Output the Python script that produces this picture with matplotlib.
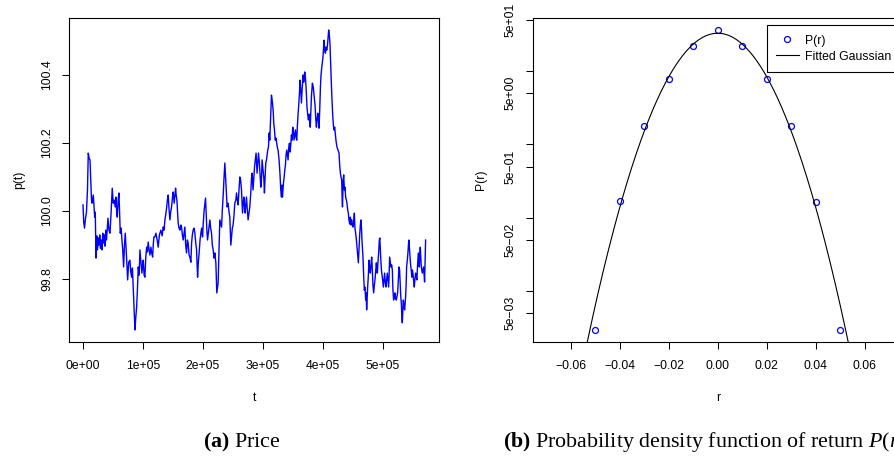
import numpy as np
import matplotlib
matplotlib.use("Agg")
import matplotlib.pyplot as plt
from matplotlib.ticker import FixedLocator, FixedFormatter, FuncFormatter, NullLocator
from matplotlib.lines import Line2D

plt.rcParams['font.family'] = ['Liberation Sans', 'DejaVu Sans']
plt.rcParams['mathtext.fontset'] = 'custom'
plt.rcParams['mathtext.rm'] = 'Liberation Serif'
plt.rcParams['mathtext.it'] = 'Liberation Serif:italic'
plt.rcParams['mathtext.bf'] = 'Liberation Serif:bold'

##############
# DATA
##############

# simulated price path, t in thousands of steps
t_k = [
    0.0, 1.2, 2.5, 4.2, 5.8, 7.5, 8.8, 10.3, 11.7, 12.8,
    14.2, 15.0, 17.2, 18.3, 19.5, 20.5, 21.7, 23.0, 24.2, 25.5,
    26.7, 28.0, 29.2, 30.5, 31.7, 33.0, 34.2, 35.5, 36.7, 38.0,
    39.2, 40.5, 41.7, 43.3, 45.0, 46.7, 48.8, 50.5, 52.2, 53.7,
    55.0, 56.3, 57.2, 58.7, 60.0, 61.2, 62.2, 63.7, 65.0, 66.3,
    67.8, 69.2, 70.5, 72.5, 74.5, 76.3, 78.3, 79.7, 81.2, 82.5,
    83.8, 85.3, 86.7, 88.0, 89.5, 90.8, 92.2, 93.7, 95.0, 96.7,
    98.3, 99.5, 100.5, 102.0, 103.3, 104.7, 106.2, 107.5, 108.8, 110.3,
    111.7, 113.3, 114.7, 116.2, 117.2, 118.3, 120.0, 121.7, 123.8, 125.5,
    127.5, 130.0, 132.0, 133.8, 135.3, 136.7, 138.0, 139.5, 140.8, 142.2,
    143.7, 145.0, 146.3, 147.8, 149.2, 150.5, 152.2, 154.5, 155.5, 156.7,
    157.8, 158.8, 160.3, 161.7, 163.3, 164.5, 165.8, 167.2, 168.7, 170.0,
    171.3, 172.8, 174.2, 175.5, 177.0, 178.3, 180.0, 181.2, 182.5, 183.8,
    185.3, 186.7, 188.0, 189.5, 191.2, 192.5, 193.8, 195.3, 196.7, 198.0,
    199.5, 200.8, 202.2, 204.5, 205.5, 206.7, 207.8, 208.8, 210.3, 211.7,
    213.0, 214.5, 215.8, 217.2, 218.7, 220.0, 221.7, 223.3, 225.5, 227.0,
    228.3, 230.0, 231.2, 232.5, 233.8, 235.3, 236.7, 237.8, 238.8, 240.5,
    242.2, 243.7, 245.0, 246.7, 247.8, 249.2, 250.5, 252.0, 253.3, 255.0,
    256.2, 257.5, 258.8, 260.3, 261.7, 263.0, 264.5, 266.2, 267.2, 268.3,
    269.5, 270.5, 271.7, 272.8, 274.2, 275.5, 277.0, 278.3, 280.0, 281.2,
    282.2, 283.8, 285.0, 286.2, 287.5, 288.8, 290.5, 291.7, 292.8, 294.2,
    295.0, 296.7, 297.8, 298.8, 300.5, 301.7, 302.8, 303.8, 305.0, 306.2,
    307.2, 308.3, 309.5, 310.5, 311.7, 313.3, 314.5, 316.2, 317.5, 318.3,
    319.5, 320.8, 322.0, 323.3, 324.5, 325.5, 327.2, 328.8, 330.0, 331.2,
    332.0, 332.8, 334.5, 335.5, 336.7, 337.8, 338.8, 340.0, 341.2, 342.2,
    343.3, 344.5, 345.5, 346.7, 347.8, 348.8, 350.0, 351.2, 352.2, 353.3,
    354.5, 355.5, 356.7, 357.8, 358.8, 360.0, 361.2, 362.2, 363.3, 364.5,
    365.8, 367.2, 368.3, 370.0, 371.2, 372.2, 373.8, 375.0, 376.2, 377.2,
    378.3, 379.2, 380.3, 381.3, 382.8, 384.2, 385.5, 387.2, 388.3, 389.5,
    390.5, 391.7, 392.8, 393.8, 395.0, 396.2, 397.2, 398.3, 399.5, 400.5,
    402.2, 403.3, 404.5, 405.5, 406.7, 407.8, 408.8, 410.0, 411.2, 412.2,
    413.3, 414.5, 415.5, 416.7, 417.8, 418.8, 420.0, 421.2, 422.5, 423.8,
    425.5, 427.2, 428.3, 429.5, 430.5, 431.7, 432.5, 433.0, 434.2, 435.0,
    436.2, 437.2, 438.3, 439.5, 440.5, 441.7, 442.8, 443.8, 445.0, 446.2,
    447.2, 448.3, 449.5, 450.5, 451.7, 452.8, 453.8, 455.0, 456.2, 457.2,
    458.3, 459.5, 460.5, 461.7, 462.8, 463.8, 464.7, 465.5, 466.3, 467.2,
    468.3, 469.5, 470.5, 471.7, 472.5, 473.3, 474.2, 475.0, 476.2, 477.2,
    478.3, 479.5, 480.5, 481.7, 482.8, 483.8, 485.0, 486.2, 487.2, 488.3,
    489.5, 490.5, 491.2, 492.2, 493.3, 494.5, 495.3, 496.2, 497.2, 498.3,
    499.5, 500.5, 501.2, 502.2, 503.3, 504.5, 505.5, 506.7, 507.8, 508.8,
    510.0, 510.8, 511.7, 512.8, 513.8, 515.0, 516.2, 517.2, 518.3, 519.5,
    520.5, 521.7, 522.8, 523.8, 525.0, 526.2, 527.2, 528.3, 529.5, 530.3,
    531.2, 532.0, 532.8, 533.7, 534.5, 535.5, 536.7, 537.5, 538.3, 539.2,
    540.0, 541.2, 542.2, 543.0, 543.8, 544.7, 545.5, 546.3, 547.2, 548.0,
    548.8, 549.7, 550.5, 551.7, 552.8, 553.8, 555.0, 556.2, 557.2, 558.3,
    559.5, 560.3, 561.2, 562.0, 562.8, 563.7, 564.5, 565.3, 566.2, 567.2,
    568.3, 569.2, 570.0, 570.8, 571.7,
]
price = [
    100.018, 99.968, 99.950, 99.979, 99.997, 100.062, 100.170, 100.155, 100.150, 100.100,
    100.032, 100.023, 100.047, 100.015, 99.982, 99.997, 99.862, 99.927, 99.886, 99.921,
    99.900, 99.930, 99.891, 99.915, 99.886, 99.935, 99.906, 99.930, 99.897, 99.944,
    99.915, 99.950, 99.979, 99.944, 99.935, 99.988, 100.067, 100.023, 100.032, 100.012,
    100.041, 99.997, 99.982, 100.032, 100.053, 99.988, 99.935, 99.950, 99.915, 99.886,
    99.836, 99.900, 99.935, 99.871, 99.798, 99.850, 99.856, 99.821, 99.806, 99.833,
    99.777, 99.710, 99.651, 99.686, 99.718, 99.768, 99.836, 99.812, 99.886, 99.850,
    99.818, 99.842, 99.856, 99.812, 99.806, 99.862, 99.894, 99.880, 99.909, 99.886,
    99.871, 99.894, 99.877, 99.865, 99.900, 99.924, 99.924, 99.935, 99.915, 99.894,
    99.930, 99.944, 99.927, 99.953, 99.944, 99.974, 99.988, 100.009, 100.032, 100.047,
    100.003, 99.974, 99.997, 100.012, 100.038, 100.056, 100.023, 100.067, 100.047, 100.032,
    99.997, 99.965, 99.950, 99.944, 99.959, 99.953, 99.930, 99.915, 99.935, 99.953,
    99.900, 99.877, 99.915, 99.906, 99.871, 99.865, 99.850, 99.906, 99.930, 99.944,
    99.950, 99.935, 99.909, 99.886, 99.806, 99.850, 99.877, 99.915, 99.935, 99.950,
    99.924, 99.968, 100.003, 100.038, 99.997, 99.944, 99.915, 99.930, 99.950, 99.974,
    99.950, 99.935, 99.900, 99.886, 99.862, 99.877, 99.848, 99.760, 99.789, 99.886,
    99.974, 99.962, 99.953, 100.003, 100.041, 100.097, 100.141, 100.106, 100.070, 100.012,
    100.023, 99.997, 99.982, 99.900, 99.921, 99.950, 99.959, 99.988, 100.023, 100.032,
    100.053, 100.032, 100.018, 100.062, 100.100, 100.091, 100.062, 99.994, 100.018, 100.041,
    100.018, 99.994, 100.018, 100.041, 100.003, 99.974, 99.994, 100.012, 100.053, 100.097,
    100.111, 100.062, 100.097, 100.129, 100.150, 100.170, 100.111, 100.141, 100.170, 100.144,
    100.120, 100.070, 100.091, 100.150, 100.120, 100.097, 100.053, 100.097, 100.141, 100.150,
    100.164, 100.179, 100.188, 100.229, 100.208, 100.287, 100.340, 100.317, 100.290, 100.258,
    100.238, 100.208, 100.214, 100.199, 100.185, 100.179, 100.150, 100.106, 100.062, 100.041,
    100.076, 100.041, 100.082, 100.097, 100.120, 100.135, 100.164, 100.179, 100.164, 100.150,
    100.185, 100.199, 100.173, 100.194, 100.223, 100.208, 100.246, 100.232, 100.208, 100.223,
    100.238, 100.217, 100.208, 100.252, 100.282, 100.311, 100.346, 100.384, 100.355, 100.317,
    100.361, 100.399, 100.378, 100.408, 100.390, 100.364, 100.305, 100.282, 100.267, 100.284,
    100.267, 100.246, 100.296, 100.340, 100.375, 100.364, 100.340, 100.311, 100.273, 100.246,
    100.267, 100.287, 100.267, 100.243, 100.296, 100.364, 100.399, 100.419, 100.437, 100.452,
    100.501, 100.472, 100.463, 100.481, 100.472, 100.484, 100.507, 100.531, 100.513, 100.487,
    100.428, 100.370, 100.326, 100.282, 100.252, 100.238, 100.246, 100.223, 100.202, 100.188,
    100.179, 100.170, 100.135, 100.111, 100.100, 100.091, 100.032, 100.012, 100.091, 100.106,
    100.062, 100.070, 100.041, 100.032, 100.023, 100.003, 99.994, 99.974, 99.962, 99.982,
    99.959, 99.974, 99.959, 99.953, 99.968, 99.994, 99.950, 99.935, 99.915, 99.894,
    99.871, 99.848, 99.886, 99.930, 99.959, 99.974, 99.950, 99.915, 99.891, 99.865,
    99.812, 99.768, 99.777, 99.739, 99.760, 99.710, 99.745, 99.777, 99.812, 99.856,
    99.833, 99.818, 99.842, 99.865, 99.827, 99.783, 99.760, 99.783, 99.798, 99.821,
    99.848, 99.827, 99.818, 99.850, 99.877, 99.915, 99.921, 99.886, 99.848, 99.821,
    99.806, 99.789, 99.777, 99.798, 99.818, 99.789, 99.777, 99.798, 99.818, 99.798,
    99.777, 99.812, 99.865, 99.850, 99.836, 99.842, 99.827, 99.768, 99.739, 99.748,
    99.760, 99.745, 99.739, 99.748, 99.760, 99.798, 99.836, 99.827, 99.777, 99.748,
    99.730, 99.695, 99.672, 99.710, 99.739, 99.724, 99.710, 99.730, 99.748, 99.783,
    99.836, 99.856, 99.877, 99.900, 99.915, 99.891, 99.865, 99.850, 99.836, 99.821,
    99.806, 99.827, 99.818, 99.798, 99.777, 99.798, 99.818, 99.806, 99.798, 99.842,
    99.877, 99.856, 99.836, 99.871, 99.894, 99.862, 99.836, 99.827, 99.818, 99.827,
    99.836, 99.812, 99.792, 99.856, 99.915,
]
assert len(t_k) == len(price)

# empirical density of returns
r_bins = [-0.05, -0.04, -0.03, -0.02, -0.01, 0.00, 0.01, 0.02, 0.03, 0.04, 0.05]
pdf_r = [0.00293, 0.168, 1.79, 7.76, 21.9, 36.5, 21.9, 7.76, 1.79, 0.163, 0.00293]

# fitted normal
fit_mu = 0.0
fit_sigma = 0.0121

r_ticks = [-0.06, -0.04, -0.02, 0.00, 0.02, 0.04, 0.06]
p_ticks = [99.8, 100.0, 100.2, 100.4]
pdf_ticks = [5e1, 1e1, 5e0, 1e0, 5e-1, 1e-1, 5e-2, 1e-2, 5e-3]


def r_pad(lo, hi):
    # R style 4% range extension
    d = 0.04 * (hi - lo)
    return lo - d, hi + d


def sci_label(v):
    s = '{:.0e}'.format(v)
    if s[0] != '5':
        return ''  # R drops these labels for lack of room
    return s.replace('-', '\u2212')


def style_axes(ax):
    for s in ax.spines.values():
        s.set_linewidth(0.8)
    ax.tick_params(direction='out', length=5, width=0.75, labelsize=8.7,
                   top=False, right=False)
    ax.tick_params(axis='x', pad=8)
    ax.tick_params(axis='y', pad=6.5)
    for lab in ax.get_yticklabels():
        lab.set_rotation(90)
        lab.set_va('center')


fig = plt.figure(figsize=(8.94, 4.57), dpi=100)
ax1 = fig.add_axes([0.0775, 0.2516, 0.4139, 0.709])
ax2 = fig.add_axes([0.5959, 0.2516, 0.4139, 0.709])

# (a) price
t = np.array(t_k) * 1000
ax1.plot(t, price, color='#0000ff', lw=1.0)
ax1.set_xlim(*r_pad(0, t.max()))
ax1.set_ylim(*r_pad(min(price), max(price)))
ax1.xaxis.set_major_locator(FixedLocator([0, 1e5, 2e5, 3e5, 4e5, 5e5]))
ax1.xaxis.set_major_formatter(FuncFormatter(lambda v, _: '{:.0e}'.format(v)))
ax1.yaxis.set_major_locator(FixedLocator(p_ticks))
ax1.yaxis.set_major_formatter(FuncFormatter(lambda v, _: '{:.1f}'.format(v)))
ax1.set_xlabel('t', fontsize=8.7, va='baseline')
ax1.set_ylabel('p(t)', fontsize=8.7, va='center')
ax1.xaxis.set_label_coords(0.5, -0.182)
ax1.yaxis.set_label_coords(-0.1354, 0.5)
style_axes(ax1)

# (b) pdf of returns, log scale
ax2.set_yscale('log')
rr = np.linspace(-0.08, 0.08, 600)
gauss = np.exp(-(rr - fit_mu) ** 2 / (2 * fit_sigma ** 2)) / (np.sqrt(2 * np.pi) * fit_sigma)
ax2.plot(r_bins, pdf_r, 'o', mfc='none', mec='#0000ff', ms=4.3, mew=0.9)
ax2.plot(rr, gauss, color='black', lw=0.8)
ax2.set_xlim(*r_pad(-0.07, 0.07))
lo, hi = r_pad(np.log10(min(pdf_r)), np.log10(max(pdf_r)))
ax2.set_ylim(10 ** lo, 10 ** hi)
ax2.xaxis.set_major_locator(FixedLocator(r_ticks))
ax2.xaxis.set_major_formatter(FixedFormatter(
    ['{:.2f}'.format(v).replace('-', '\u2212') for v in r_ticks]))
ax2.yaxis.set_major_locator(FixedLocator(pdf_ticks))
ax2.yaxis.set_major_formatter(FixedFormatter([sci_label(v) for v in pdf_ticks]))
ax2.yaxis.set_minor_locator(NullLocator())
ax2.set_xlabel('r', fontsize=8.7, va='baseline')
ax2.set_ylabel('P(r)', fontsize=8.7, va='center')
ax2.xaxis.set_label_coords(0.5, -0.182)
ax2.yaxis.set_label_coords(-0.139, 0.5)
style_axes(ax2)

handles = [Line2D([], [], ls='none', marker='o', mfc='none', mec='#0000ff', ms=4.3, mew=0.9),
           Line2D([], [], color='black', lw=0.8)]
leg = ax2.legend(handles, ['P(r)', 'Fitted Gaussian'], loc='upper left',
                 bbox_to_anchor=(0.6324, 0.978), borderaxespad=0, fontsize=8.8,
                 fancybox=False, framealpha=1, edgecolor='black', borderpad=0.75,
                 handlelength=1.85, handletextpad=0.5, labelspacing=0.3,
                 handleheight=0.9)
leg.get_frame().set_linewidth(0.8)

# sub-captions
fig.text(202.7 / 894, 0.0219, r'$\mathbf{(a)}$ Price', fontsize=15.8,
         family='Liberation Serif', va='baseline', ha='left')
fig.text(503.3 / 894, 0.0219, r'$\mathbf{(b)}$ Probability density function of return $P(r)$',
         fontsize=15.8, family='Liberation Serif', va='baseline', ha='left')

fig.savefig('out.png', dpi=100)
